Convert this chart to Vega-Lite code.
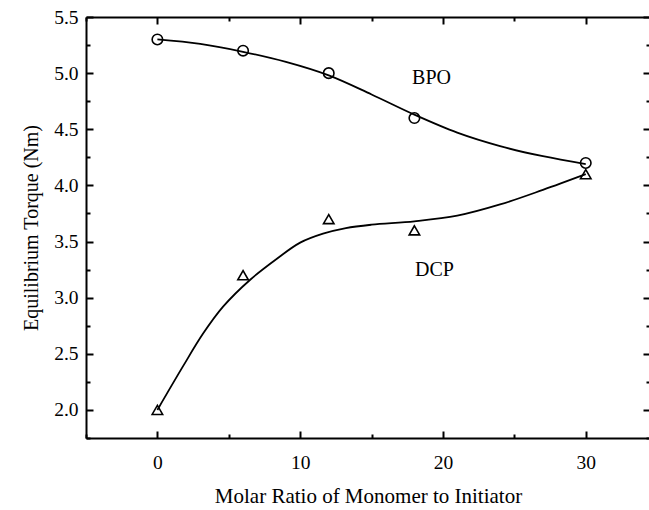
{
  "$schema": "https://vega.github.io/schema/vega-lite/v6.json",
  "width": 564,
  "height": 421,
  "autosize": {"type": "none"},
  "padding": {"left": 86, "top": 17, "right": 0, "bottom": 72},
  "background": "white",
  "config": {
    "view": {"stroke": null},
    "font": "Liberation Serif",
    "axis": {
      "domainColor": "black",
      "domainWidth": 2,
      "tickColor": "black",
      "tickWidth": 2,
      "grid": false,
      "labelFont": "Liberation Serif",
      "labelFontSize": 19.5,
      "labelColor": "black",
      "titleFont": "Liberation Serif",
      "titleFontSize": 20,
      "titleFontWeight": "normal",
      "titleColor": "black"
    }
  },
  "datasets": {
    "points": [
      {"series": "BPO", "ratio": 0, "torque": 5.3},
      {"series": "BPO", "ratio": 6, "torque": 5.2},
      {"series": "BPO", "ratio": 12, "torque": 5.0},
      {"series": "BPO", "ratio": 18, "torque": 4.6},
      {"series": "BPO", "ratio": 30, "torque": 4.2},
      {"series": "DCP", "ratio": 0, "torque": 2.0},
      {"series": "DCP", "ratio": 6, "torque": 3.2},
      {"series": "DCP", "ratio": 12, "torque": 3.7},
      {"series": "DCP", "ratio": 18, "torque": 3.6},
      {"series": "DCP", "ratio": 30, "torque": 4.1}
    ],
    "curves": [
      {"series": "BPO", "ratio": 0, "torque": 5.3},
      {"series": "BPO", "ratio": 3, "torque": 5.26},
      {"series": "BPO", "ratio": 6, "torque": 5.19},
      {"series": "BPO", "ratio": 9, "torque": 5.1},
      {"series": "BPO", "ratio": 12, "torque": 4.98},
      {"series": "BPO", "ratio": 15, "torque": 4.81},
      {"series": "BPO", "ratio": 18, "torque": 4.63},
      {"series": "BPO", "ratio": 21, "torque": 4.47},
      {"series": "BPO", "ratio": 24, "torque": 4.35},
      {"series": "BPO", "ratio": 27, "torque": 4.26},
      {"series": "BPO", "ratio": 30, "torque": 4.19},
      {"series": "DCP", "ratio": 0, "torque": 2.0},
      {"series": "DCP", "ratio": 1.8, "torque": 2.39},
      {"series": "DCP", "ratio": 3.2, "torque": 2.68},
      {"series": "DCP", "ratio": 4.6, "torque": 2.92},
      {"series": "DCP", "ratio": 6.5, "torque": 3.16},
      {"series": "DCP", "ratio": 8.3, "torque": 3.34},
      {"series": "DCP", "ratio": 10, "torque": 3.49},
      {"series": "DCP", "ratio": 11.6, "torque": 3.57},
      {"series": "DCP", "ratio": 13.2, "torque": 3.62},
      {"series": "DCP", "ratio": 15, "torque": 3.65},
      {"series": "DCP", "ratio": 18, "torque": 3.68},
      {"series": "DCP", "ratio": 21, "torque": 3.73},
      {"series": "DCP", "ratio": 24, "torque": 3.83},
      {"series": "DCP", "ratio": 27, "torque": 3.96},
      {"series": "DCP", "ratio": 30, "torque": 4.1}
    ],
    "labels": [
      {"label": "BPO", "ratio": 19.2, "torque": 4.96},
      {"label": "DCP", "ratio": 19.4, "torque": 3.25}
    ]
  },
  "layer": [
    {
      "data": {"name": "curves"},
      "mark": {"type": "line", "interpolate": "catmull-rom", "color": "black", "strokeWidth": 1.8},
      "encoding": {
        "x": {
          "field": "ratio", "type": "quantitative",
          "scale": {"domain": [-5, 34.5], "nice": false, "zero": false},
          "axis": {
            "orient": "bottom",
            "title": "Molar Ratio of Monomer to Initiator",
            "titleFontSize": 21,
            "values": [0, 10, 20, 30],
            "tickSize": -7,
            "labelPadding": 22,
            "titlePadding": 14
          }
        },
        "y": {
          "field": "torque", "type": "quantitative",
          "scale": {"domain": [1.75, 5.5], "nice": false, "zero": false},
          "axis": {
            "orient": "left",
            "title": "Equilibrium Torque (Nm)",
            "values": [2, 2.5, 3, 3.5, 4, 4.5, 5, 5.5],
            "format": ".1f",
            "tickSize": -7,
            "labelPadding": 15,
            "titlePadding": 12
          }
        },
        "detail": {"field": "series"}
      }
    },
    {
      "data": {"name": "points"},
      "mark": {"type": "point", "filled": false, "color": "black", "strokeWidth": 1.6, "size": 110, "opacity": 1},
      "encoding": {
        "x": {
          "field": "ratio", "type": "quantitative",
          "scale": {"domain": [-5, 34.5], "nice": false, "zero": false},
          "axis": {
            "orient": "top", "title": null, "labels": false,
            "values": [0, 10, 20, 30],
            "tickSize": -7
          }
        },
        "y": {
          "field": "torque", "type": "quantitative",
          "scale": {"domain": [1.75, 5.5], "nice": false, "zero": false},
          "axis": {
            "orient": "right", "title": null, "labels": false,
            "values": [2, 2.5, 3, 3.5, 4, 4.5, 5, 5.5],
            "tickSize": -7
          }
        },
        "shape": {
          "field": "series", "type": "nominal",
          "scale": {"domain": ["BPO", "DCP"], "range": ["circle", "triangle-up"]},
          "legend": null
        }
      }
    },
    {
      "data": {"name": "labels"},
      "mark": {"type": "text", "font": "Liberation Serif", "fontSize": 20, "color": "black", "align": "center", "baseline": "middle"},
      "encoding": {
        "x": {
          "field": "ratio", "type": "quantitative",
          "axis": {"orient": "bottom", "title": null, "labels": false, "domain": false, "values": [-5, 5, 15, 25], "tickSize": -4}
        },
        "y": {
          "field": "torque", "type": "quantitative",
          "axis": {"orient": "left", "title": null, "labels": false, "domain": false, "values": [1.75, 2.25, 2.75, 3.25, 3.75, 4.25, 4.75, 5.25], "tickSize": -4}
        },
        "text": {"field": "label"}
      }
    },
    {
      "data": {"name": "labels"},
      "mark": {"type": "text", "opacity": 0},
      "encoding": {
        "x": {
          "field": "ratio", "type": "quantitative",
          "axis": {"orient": "top", "title": null, "labels": false, "domain": false, "values": [-5, 5, 15, 25], "tickSize": -4}
        },
        "y": {
          "field": "torque", "type": "quantitative",
          "axis": {"orient": "right", "title": null, "labels": false, "domain": false, "values": [1.75, 2.25, 2.75, 3.25, 3.75, 4.25, 4.75, 5.25], "tickSize": -4}
        },
        "text": {"field": "label"}
      }
    }
  ],
  "resolve": {"axis": {"x": "independent", "y": "independent"}}
}
